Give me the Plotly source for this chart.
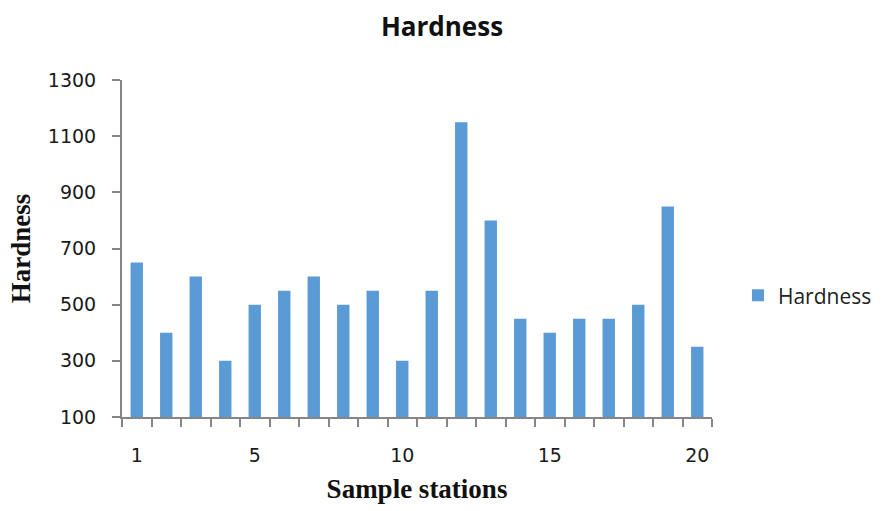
import plotly.graph_objects as go

stations = list(range(1, 21))
hardness = [650, 400, 600, 300, 500, 550, 600, 500, 550, 300,
            550, 1150, 800, 450, 400, 450, 450, 500, 850, 350]
x_tick_vals = [1, 5, 10, 15, 20]
y_tick_vals = [100, 300, 500, 700, 900, 1100, 1300]

AX = "#868686"

fig = go.Figure()
fig.add_trace(go.Bar(
    x=stations, y=hardness, name="Hardness",
    marker=dict(color="#5B9BD5", line=dict(width=0)),
    width=0.42,
))

fig.update_layout(
    width=884, height=511,
    margin=dict(l=122, r=172, t=80, b=94, autoexpand=False),
    paper_bgcolor="white", plot_bgcolor="white",
    title=dict(text="<b>Hardness</b>", x=0.5, xanchor="center",
               y=1 - 27 / 511, yanchor="middle",
               font=dict(family="Open Sans", size=26, color="#111")),
    showlegend=True,
    legend=dict(x=1.044, xanchor="left", y=0.36, yanchor="middle",
                font=dict(family="Open Sans", size=21, color="#222"),
                bgcolor="rgba(0,0,0,0)"),
)

fig.update_xaxes(
    range=[0.5, 20.5], tickmode="array", tickvals=x_tick_vals,
    ticks="", showgrid=False, zeroline=False,
    showline=True, linecolor=AX, linewidth=2,
    tickfont=dict(family="DejaVu Sans", size=19, color="#1a1a1a"),
    ticklabelstandoff=20,
    minor=dict(ticks="outside", tick0=0.5, dtick=1, ticklen=8,
               tickcolor=AX, tickwidth=2, showgrid=False),
    title=dict(text="<b>Sample stations</b>", standoff=14,
               font=dict(family="Liberation Serif", size=27, color="#111")),
)

fig.update_yaxes(
    range=[100, 1300], tickmode="array", tickvals=y_tick_vals,
    ticks="outside", ticklen=8, tickcolor=AX, tickwidth=2,
    showgrid=False, zeroline=False,
    showline=True, linecolor=AX, linewidth=2,
    tickfont=dict(family="DejaVu Sans", size=19, color="#1a1a1a"),
    ticklabelstandoff=12,
    title=dict(text="<b>Hardness</b>", standoff=9,
               font=dict(family="Liberation Serif", size=27, color="#111")),
)

fig.write_html("out.html")
